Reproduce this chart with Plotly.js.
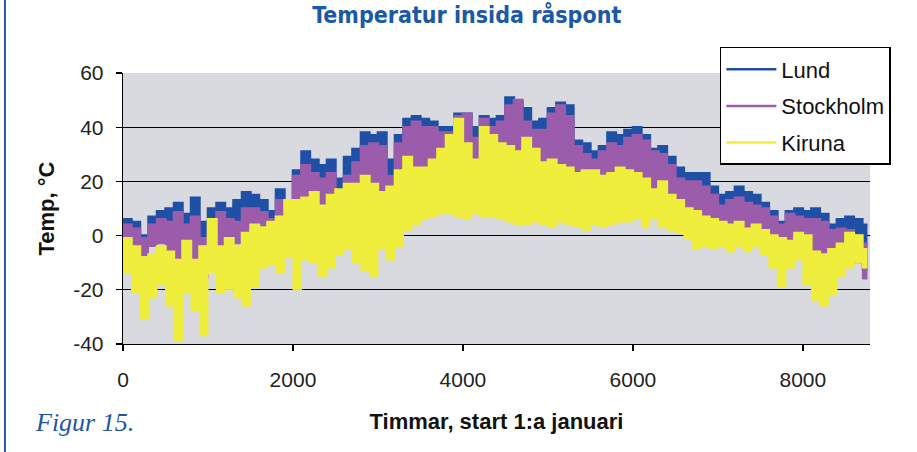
<!DOCTYPE html>
<html>
<head>
<meta charset="utf-8">
<script src="https://cdn.plot.ly/plotly-3.0.1.min.js"></script>
<style>html,body{margin:0;padding:0;background:#fff;}#chart{width:917px;height:452px;}</style>
</head>
<body>
<div id="chart"></div>
<script>
// Envelope readings per 100-hour bin (bin start hour = index * 100), °C
const HOUR_STEP = 100;
const LAST_HOUR = 8760;

const LUND_HI = [
  6, 5, 0, 7, 9, 10, 12, 8, 14, 5,
  10, 12, 10, 13, 16, 15, 13, 9, 17, 12,
  24, 31, 28, 26, 28, 21, 29, 32, 38, 37,
  38, 28, 37, 43, 44, 43, 42, 40, 40, 45,
  45, 40, 44, 43, 44, 51, 49, 47, 42, 43,
  47, 49, 48, 35, 34, 31, 33, 38, 37, 39,
  40, 37, 32, 33, 29, 25, 23, 23, 23, 18,
  15, 16, 18, 16, 15, 12, 9, 5, 9, 10,
  9, 10, 8, 4, 6, 7, 6, 4
];
const LUND_LO = [
  0, -4, -6, -1, 0, -5, -9, -2, -9, -12,
  -2, -2, -1, 0, -1, 1, 1, 2, 0, 2,
  0, 5, 6, 4, 5, 6, 8, 7, 6, 7,
  11, 9, 12, 15, 16, 18, 18, 19, 19, 17,
  15, 15, 17, 14, 15, 14, 11, 13, 14, 15,
  17, 16, 16, 17, 15, 13, 12, 15, 15, 14,
  13, 11, 13, 11, 9, 9, 7, 6, 5, 5,
  4, 3, 4, 2, 1, 0, -2, -6, -3, -2,
  -2, -3, -10, -7, -3, -5, -7, -13
];
const STOCKHOLM_HI = [
  4, 2.5, -1, 4, 6, 5, 8.6, 4, 7, -1,
  5, 8.6, 6, 5, 10, 10, 8.6, 6, 13, 9,
  22, 26, 23, 21, 23, 15, 22, 27, 33, 34,
  33, 22, 34, 40, 42, 40, 40, 38, 38, 44,
  45, 36, 43, 40, 42, 48, 50, 42, 39, 39,
  45, 48, 44, 33, 30, 28, 31, 34, 33, 36,
  37, 35, 31, 30, 26, 21, 20, 20, 18, 15,
  11, 13, 14, 12, 11, 10, 7, 4, 8, 7,
  6, 6, 5, 2, 2.5, 2, 0, -3
];
const STOCKHOLM_LO = [
  -3, -8, -10, -4, -3, -9, -13, -6, -13, -16,
  -5, -5, -4, -3, -4, -2, -2, -1, -3, -1,
  -3, 2, 3, 1, 2, 3, 5, 4, 3, 4,
  8, 6, 9, 12, 13, 15, 15, 16, 16, 14,
  12, 12, 14, 11, 12, 11, 8, 10, 11, 12,
  14, 13, 13, 14, 12, 10, 9, 12, 12, 11,
  10, 8, 10, 8, 6, 6, 4, 3, 2, 2,
  1, 0, 1, -1, -2, -3, -5, -9, -6, -5,
  -5, -6, -13, -10, -6, -8, -10, -16
];
const KIRUNA_HI = [
  -1, -4, -8, -7, -4, -6, -9, -2, -9, -4,
  6, -4, -1, -4, 1, 4, 3, 5, 7, 13,
  13, 14, 16, 11, 15, 17, 19, 19, 22, 19,
  16, 18, 24, 29, 25, 25, 28, 32, 37, 43,
  34, 28, 40, 37, 34, 33, 31, 36, 32, 27,
  28, 26, 25, 23, 24, 24, 22, 23, 25, 24,
  23, 21, 17, 20, 15, 13, 10, 9, 7, 6,
  5, 4, 5, 2.5, 4, 2, 0, -1, -2, 1,
  0, -6, -7, -5, -3, 1, 0, -5
];
const KIRUNA_LO = [
  -14, -21, -31, -23, -18, -26, -39, -21, -28, -37,
  -14, -21, -20, -23, -26, -19, -12, -11, -14, -8,
  -20, -9, -10, -15, -12, -7, -5, -10, -13, -15,
  -5, -9, -4, 2, 4, 6, 7, 8, 8, 7,
  6, 8, 7, 7, 6, 5, 4, 4, 5, 4,
  3, 5, 4, 3, 2, 4, 3, 4, 5, 5,
  6, 3, 6, 3, 2, 1, -1, -5, -4, -5,
  -4, -6, -4, -6, -4, -7, -12, -19, -12, -9,
  -18, -24, -26, -22, -15, -12, -10, -12
];

const SERIES = [
  {name: 'Lund', hi: LUND_HI, lo: LUND_LO, color: '#1f50a6'},
  {name: 'Stockholm', hi: STOCKHOLM_HI, lo: STOCKHOLM_LO, color: '#9a5cab'},
  {name: 'Kiruna', hi: KIRUNA_HI, lo: KIRUNA_LO, color: '#efee3c'}
];

const X_TICKS = [0, 2000, 4000, 6000, 8000];
const Y_TICKS = [-40, -20, 0, 20, 40, 60];

function withEnd(arr) { return arr.concat([arr[arr.length - 1]]); }
function hoursFor(arr) { return arr.map((_, i) => i * HOUR_STEP).concat([LAST_HOUR]); }

const traces = [];
SERIES.forEach((s, k) => {
  traces.push({
    x: hoursFor(s.hi), y: withEnd(s.hi), name: s.name, type: 'scatter', mode: 'lines',
    line: {color: s.color, width: 2.5, shape: 'hv'},
    legendgroup: 'g' + k, showlegend: true, hoverinfo: 'skip'
  });
  traces.push({
    x: hoursFor(s.lo), y: withEnd(s.lo), name: s.name, type: 'scatter', mode: 'lines',
    line: {color: s.color, width: 1, shape: 'hv'},
    fill: 'tonexty', fillcolor: s.color,
    legendgroup: 'g' + k, showlegend: false, hoverinfo: 'skip'
  });
});

const font = 'Liberation Sans, Arial, sans-serif';
const layout = {
  width: 917, height: 452,
  margin: {l: 123, r: 47, t: 73, b: 108, pad: 0},
  paper_bgcolor: '#ffffff',
  plot_bgcolor: '#d9dadf',
  showlegend: true,
  title: {
    text: '<b>Temperatur insida råspont</b>',
    font: {family: 'Liberation Sans Narrow, DejaVu Sans Condensed, sans-serif', size: 23, color: '#1a58a8'},
    x: 0.509, xanchor: 'center', xref: 'container',
    y: 0.985, yanchor: 'top', yref: 'container'
  },
  xaxis: {
    range: [0, 8790], tickvals: X_TICKS, ticktext: X_TICKS.map(String),
    ticks: 'outside', ticklen: 6, tickcolor: '#000', tickwidth: 1.3,
    showline: true, linecolor: '#000', linewidth: 1.3,
    showgrid: false, zeroline: false,
    tickfont: {family: font, size: 21, color: '#222'},
    ticklabelstandoff: 10,
    title: {text: '<b>Timmar, start 1:a januari</b>', font: {family: font, size: 22, color: '#111'}, standoff: 24}
  },
  yaxis: {
    range: [-40, 60], tickvals: Y_TICKS, ticktext: Y_TICKS.map(String),
    ticks: 'outside', ticklen: 6, tickcolor: '#000', tickwidth: 1.3,
    showline: true, linecolor: '#000', linewidth: 1.3,
    showgrid: true, gridcolor: '#000', gridwidth: 1.3,
    zeroline: false,
    tickfont: {family: font, size: 21, color: '#222'},
    ticklabelstandoff: 8,
    title: {text: '<b>Temp, °C</b>', font: {family: font, size: 22, color: '#111'}, standoff: 12}
  },
  legend: {
    x: 0.799, xanchor: 'left', y: 1.096, yanchor: 'top',
    bgcolor: '#ffffff', bordercolor: '#000', borderwidth: 1.5,
    font: {family: font, size: 22, color: '#111'},
    traceorder: 'grouped', tracegroupgap: 5, itemwidth: 50
  },
  annotations: [{
    text: '<i>Figur 15.</i>', xref: 'paper', yref: 'paper', x: -0.12, y: -0.29,
    xanchor: 'left', yanchor: 'middle', showarrow: false,
    font: {family: 'Liberation Serif, Times New Roman, serif', size: 26, color: '#1f55a8'}
  }],
  shapes: [{
    type: 'line', xref: 'paper', yref: 'paper', x0: -0.158, x1: -0.158, y0: -0.4, y1: 1.27,
    line: {color: '#2a5caa', width: 2}
  }]
};

Plotly.newPlot('chart', traces, layout, {displayModeBar: false, staticPlot: true});
</script>
</body>
</html>
